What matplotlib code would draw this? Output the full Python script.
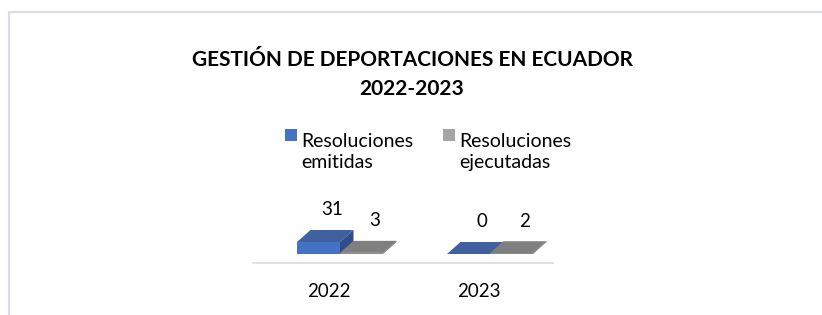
import matplotlib
matplotlib.use("Agg")
import matplotlib.pyplot as plt
from matplotlib.patches import Polygon, Rectangle
import numpy as np

# ---- data ----
categories = ["2022", "2023"]
series_names = ["Resoluciones emitidas", "Resoluciones ejecutadas"]
emitidas = [31, 0]
ejecutadas = [3, 2]
title = "GESTIÓN DE DEPORTACIONES EN ECUADOR\n2022-2023"

series_values = [emitidas, ejecutadas]
front_colors = ["#4472c4", "#8c8c8c"]
top_colors = ["#41609f", "#7f7f7f"]
side_colors = ["#2f4d8c", "#6e6e6e"]
legend_colors = ["#4472c4", "#a5a5a5"]

plt.rcParams['font.family'] = ['Lato', 'DejaVu Sans']

W, H = 822, 315
fig = plt.figure(figsize=(W / 100, H / 100), dpi=100)
fig.patch.set_facecolor("white")

# chart border
fig.add_artist(Rectangle((8.5 / W, -0.2), 1.2, 1 - 11.5 / H + 0.2,
                         transform=fig.transFigure, fill=False,
                         edgecolor="#dadde3", linewidth=1.6))

# axes region (pixels from top-left)
ax_left, ax_right, ax_top, ax_bottom = 250, 560, 195, 265
ax = fig.add_axes([ax_left / W, (H - ax_bottom) / H,
                   (ax_right - ax_left) / W, (ax_bottom - ax_top) / H])
ax.set_axis_off()

px_per_cat = 150.0
px_per_unit = 0.387
ax.set_xlim((ax_left - 340) / px_per_cat, (ax_right - 340) / px_per_cat)
ax.set_ylim(-(ax_bottom - 254) / px_per_unit, (254 - ax_top) / px_per_unit)

w = 43 / px_per_cat
dx = 13.5 / px_per_cat
dy = 12 / px_per_unit

x = np.arange(len(categories))
for s, vals in enumerate(series_values):
    lefts = x - w + s * w
    ax.bar(lefts, vals, width=w, align="edge", color=front_colors[s],
           edgecolor="none", zorder=2 + s)
    for x0, h in zip(lefts, vals):
        top = Polygon([(x0, h), (x0 + w, h), (x0 + w + dx, h + dy), (x0 + dx, h + dy)],
                      closed=True, facecolor=top_colors[s], edgecolor="none", zorder=2 + s)
        side = Polygon([(x0 + w, 0), (x0 + w + dx, dy), (x0 + w + dx, h + dy), (x0 + w, h)],
                       closed=True, facecolor=side_colors[s], edgecolor="none", zorder=2 + s)
        ax.add_patch(top)
        ax.add_patch(side)
        ax.annotate(str(h), xy=(x0 + w / 2 + dx, h + dy), xytext=(0, 10.5),
                    textcoords="offset points", ha="center", va="baseline",
                    fontsize=13.5, color="#000000")

# floor line
ax.axhline(-(263 - 254) / px_per_unit, xmin=3 / 310, xmax=303 / 310,
           color="#d9dce3", linewidth=1.2, zorder=1)

# category labels
for i, c in enumerate(categories):
    ax.annotate(c, xy=(i - 0.077, 0), xycoords=("data", "axes fraction"),
                xytext=(0, -32 * 0.72), textcoords="offset points",
                ha="center", va="baseline", fontsize=13.5, color="#000000")

# title (va=baseline anchors the last line)
fig.text(412 / W, 1 - 95 / H, title, ha="center", va="baseline",
         fontsize=15, fontweight="bold", linespacing=1.55, color="#000000")

# legend (manual)
leg_x = [285, 443]
for s, name in enumerate(series_names):
    fig.add_artist(Rectangle((leg_x[s] / W, 1 - 141 / H), 12 / W, 12 / H,
                             transform=fig.transFigure, facecolor=legend_colors[s],
                             edgecolor="none"))
    fig.text((leg_x[s] + 16) / W, 1 - 168 / H, name.replace(" ", "\n"),
             ha="left", va="baseline", fontsize=14, linespacing=1.3,
             color="#000000")

fig.savefig("out.png", dpi=100, facecolor="white")
